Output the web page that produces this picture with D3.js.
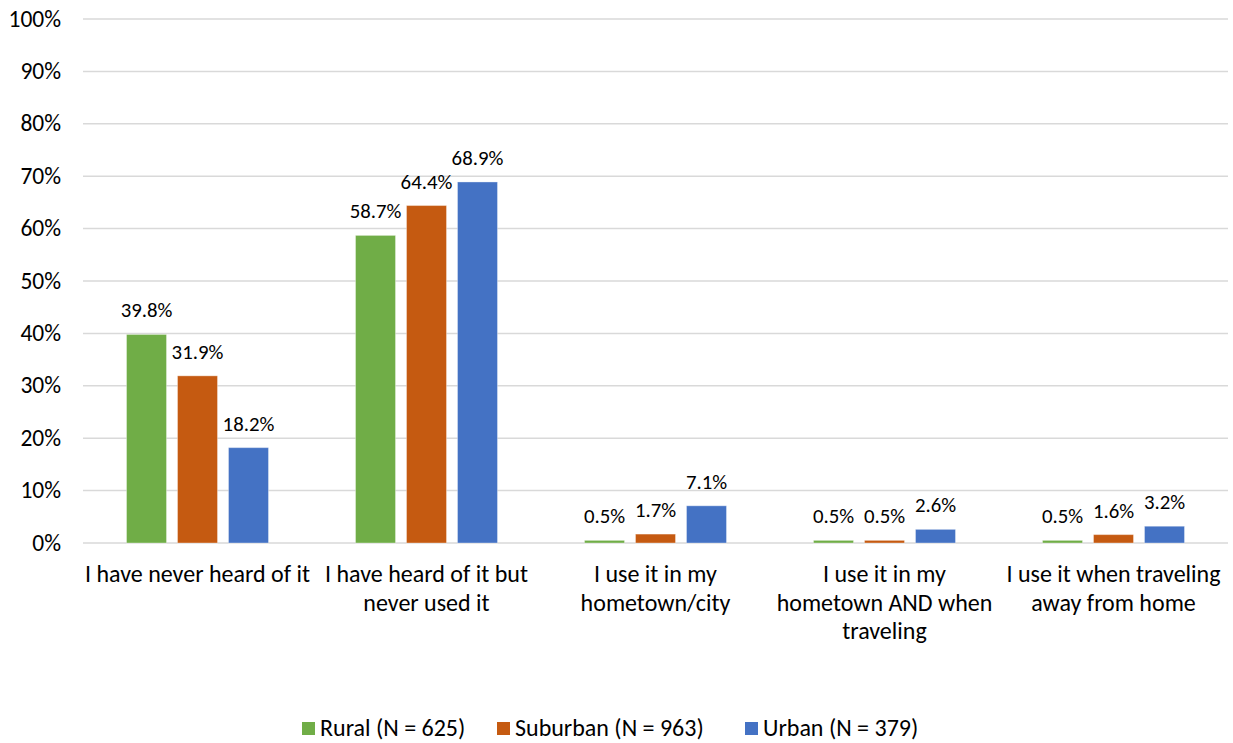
<!DOCTYPE html>
<html>
<head>
<meta charset="utf-8">
<script src="https://cdn.jsdelivr.net/npm/d3@7"></script>
<style>
  html, body { margin: 0; padding: 0; background: #fff; }
  svg { display: block; }
  text { font-family: Carlito, Lato, "Open Sans", sans-serif; fill: #000; }
</style>
</head>
<body>
<svg id="chart" width="1233" height="743"></svg>
<script>
const categories = [
  ["I have never heard of it"],
  ["I have heard of it but", "never used it"],
  ["I use it in my", "hometown/city"],
  ["I use it in my", "hometown AND when", "traveling"],
  ["I use it when traveling", "away from home"]
];
const seriesNames = ["Rural (N = 625)", "Suburban (N = 963)", "Urban (N = 379)"];
const seriesColors = ["#70AD47", "#C55A11", "#4472C4"];
const rural = [39.8, 58.7, 0.5, 0.5, 0.5];
const suburban = [31.9, 64.4, 1.7, 0.5, 1.6];
const urban = [18.2, 68.9, 7.1, 2.6, 3.2];
const yTicks = [0, 10, 20, 30, 40, 50, 60, 70, 80, 90, 100];

(function () {
const seriesValues = [rural, suburban, urban];
const catKeys = categories.map((c, i) => "c" + i);

const svg = d3.select("#chart");
const pLeft = 83, pRight = 1228, pTop = 19, pBottom = 543;

const x0 = d3.scaleBand().domain(catKeys).range([pLeft, pRight])
  .paddingInner(0.38).paddingOuter(0.19);
const x1 = d3.scaleBand().domain(seriesNames).range([0, x0.bandwidth()])
  .paddingInner(11 / 51).paddingOuter(0);
const y = d3.scaleLinear().domain([0, 100]).range([pBottom, pTop]);

// gridlines
svg.append("g").selectAll("line").data(yTicks).join("line")
  .attr("x1", pLeft).attr("x2", pRight)
  .attr("y1", d => y(d)).attr("y2", d => y(d))
  .attr("stroke", "#D9D9D9").attr("stroke-width", 1.5);

// y axis labels
const yAxis = d3.axisLeft(y).tickValues(yTicks).tickFormat(d => d + "%").tickSize(0).tickPadding(0);
const yg = svg.append("g").attr("transform", `translate(61,0)`).call(yAxis);
yg.select(".domain").remove();
yg.selectAll("text").attr("font-size", 23.5).attr("fill", "#000").attr("dy", "0.3em")
  .style("font-family", "Carlito, Lato, 'Open Sans', sans-serif");

// bars
const groups = svg.append("g").selectAll("g").data(catKeys).join("g")
  .attr("transform", d => `translate(${x0(d)},0)`);

groups.each(function(ck, ci) {
  const g = d3.select(this);
  const data = seriesNames.map((s, si) => ({ s, si, v: seriesValues[si][ci] }));
  g.selectAll("rect").data(data).join("rect")
    .attr("x", d => x1(d.s))
    .attr("width", x1.bandwidth())
    .attr("y", d => y(d.v))
    .attr("height", d => y(0) - y(d.v))
    .attr("fill", d => seriesColors[d.si])
    .attr("stroke", "rgba(255,255,255,0.35)")
    .attr("stroke-width", 1);
  g.selectAll("text.lbl").data(data).join("text").attr("class", "lbl")
    .attr("x", d => x1(d.s) + x1.bandwidth() / 2)
    .attr("y", d => y(d.v) - 17)
    .attr("text-anchor", "middle")
    .attr("font-size", 20.8)
    .text(d => d.v.toFixed(1) + "%");
});

// category labels
const xAxisG = svg.append("g");
categories.forEach((lines, i) => {
  const cx = x0(catKeys[i]) + x0.bandwidth() / 2;
  const t = xAxisG.append("text").attr("text-anchor", "middle").attr("font-size", 24);
  lines.forEach((ln, j) => {
    t.append("tspan").attr("x", cx).attr("y", 582 + j * 28.5).text(ln);
  });
});

// legend
const legendX = [302, 497, 745];
const lg = svg.append("g");
seriesNames.forEach((s, i) => {
  lg.append("rect").attr("x", legendX[i]).attr("y", 722).attr("width", 13).attr("height", 13)
    .attr("fill", seriesColors[i]);
  lg.append("text").attr("x", legendX[i] + 18).attr("y", 736).attr("font-size", 24).text(s);
});
})();
</script>
</body>
</html>
